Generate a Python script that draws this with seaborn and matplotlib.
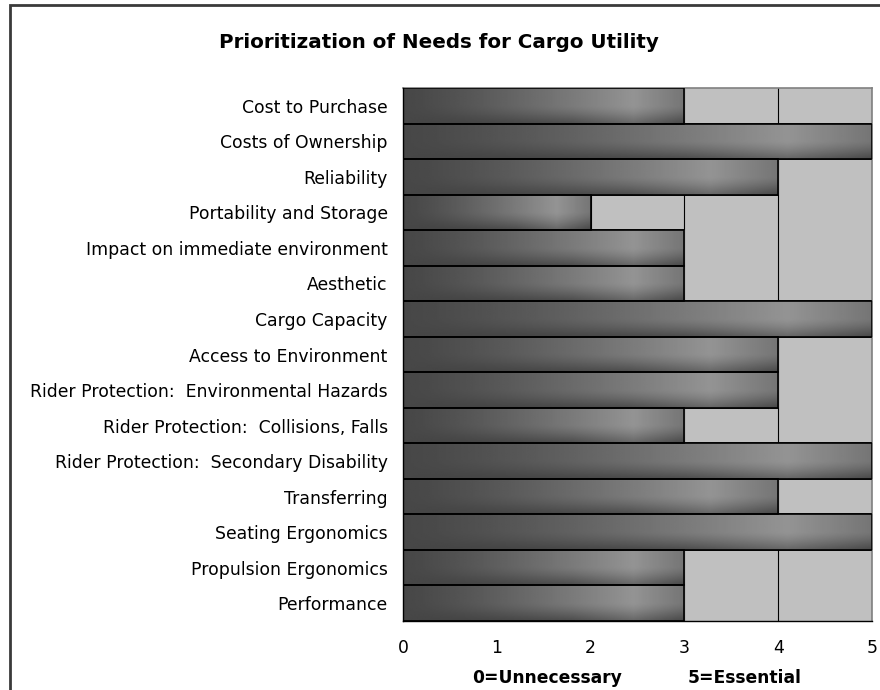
import numpy as np
import pandas as pd
import seaborn as sns
import matplotlib.pyplot as plt
from matplotlib.patches import Rectangle

needs = [
    "Cost to Purchase",
    "Costs of Ownership",
    "Reliability",
    "Portability and Storage",
    "Impact on immediate environment",
    "Aesthetic",
    "Cargo Capacity",
    "Access to Environment",
    "Rider Protection:  Environmental Hazards",
    "Rider Protection:  Collisions, Falls",
    "Rider Protection:  Secondary Disability",
    "Transferring",
    "Seating Ergonomics",
    "Propulsion Ergonomics",
    "Performance",
]
scores = [3, 5, 4, 2, 3, 3, 5, 4, 4, 3, 5, 4, 5, 3, 3]
x_ticks = [0, 1, 2, 3, 4, 5]


def bar_gradient(nx=200, ny=40):
    # dark on the left, lighter toward the end, darker along the bottom edge
    xs = np.linspace(0, 1, nx)
    ys = np.linspace(0, 1, ny)[:, None]
    base = 0.28 + 0.30 * np.clip(xs / 0.82, 0, 1) ** 1.3
    base = base - 0.12 * np.clip((xs - 0.82) / 0.18, 0, 1)
    shade = 0.18 * np.clip((ys - 0.5) / 0.5, 0, 1) ** 1.3 * np.clip(xs / 0.6, 0, 1)
    return np.clip(base[None, :] - shade, 0, 1)


df = pd.DataFrame({"need": needs, "score": scores})

sns.set_style("white")
plt.rcParams["font.family"] = ["DejaVu Sans"]
plt.rcParams["text.color"] = "black"
plt.rcParams["xtick.color"] = "black"
plt.rcParams["ytick.color"] = "black"

fig = plt.figure(figsize=(8.8, 6.9), dpi=100)
ax = fig.add_axes([403 / 880, 1 - 621 / 690, (872 - 403) / 880, (621 - 88) / 690])

sns.barplot(data=df, x="score", y="need", orient="h", width=1.0,
            color="#555555", edgecolor="black", linewidth=1.2, ax=ax)

grad = bar_gradient()
for bar in list(ax.patches):
    x0, y0 = bar.get_x(), bar.get_y()
    w, h = bar.get_width(), bar.get_height()
    im = ax.imshow(grad, cmap="gray", vmin=0, vmax=1, aspect="auto",
                   extent=(x0, x0 + w, y0 + h, y0), origin="upper",
                   interpolation="bilinear", zorder=2)
    im.set_clip_path(bar)
    edge = Rectangle((x0, y0), w, h, fill=False, edgecolor="black",
                     linewidth=1.2, zorder=3)
    ax.add_patch(edge)

ax.set_xlim(0, 5)
ax.set_ylim(len(needs) - 0.5, -0.5)
ax.set_facecolor("#C0C0C0")
ax.set_axisbelow(True)
for gx in x_ticks[1:]:
    ax.axvline(gx, color="black", linewidth=0.8, zorder=1)

ax.set_xticks(x_ticks)
ax.tick_params(axis="x", length=4, width=1, color="black", pad=9)
ax.tick_params(axis="y", length=0, pad=11)
ax.set_yticks(np.arange(-0.5, len(needs), 1), minor=True)
ax.tick_params(axis="y", which="minor", length=4, width=1, color="black")
for lab in ax.get_xticklabels() + ax.get_yticklabels():
    lab.set_family("DejaVu Sans")
    lab.set_fontsize(12.4)
    lab.set_color("black")

for side in ["top", "right"]:
    ax.spines[side].set_color("#808080")
    ax.spines[side].set_linewidth(1.2)
for side in ["left", "bottom"]:
    ax.spines[side].set_color("black")
    ax.spines[side].set_linewidth(1.0)
    ax.spines[side].set_zorder(4)

ax.set_xlabel("")
ax.set_ylabel("")

fig.text(439 / 880, 1 - 42 / 690, "Prioritization of Needs for Cargo Utility",
         ha="center", va="center", fontsize=14.3, fontweight="bold",
         family="DejaVu Sans", color="black")
fig.text(547 / 880, 1 - 678 / 690, "0=Unnecessary",
         ha="center", va="center", fontsize=12.3, fontweight="bold",
         family="DejaVu Sans", color="black")
fig.text(745 / 880, 1 - 678 / 690, "5=Essential",
         ha="center", va="center", fontsize=12.3, fontweight="bold",
         family="DejaVu Sans", color="black")

fig.patches.append(Rectangle((9.5 / 880, -0.1), 1.2, 1 - 4.5 / 690 + 0.1,
                             transform=fig.transFigure, fill=False,
                             edgecolor="#3a3a3a", linewidth=2))

fig.savefig("out.png", dpi=100)
